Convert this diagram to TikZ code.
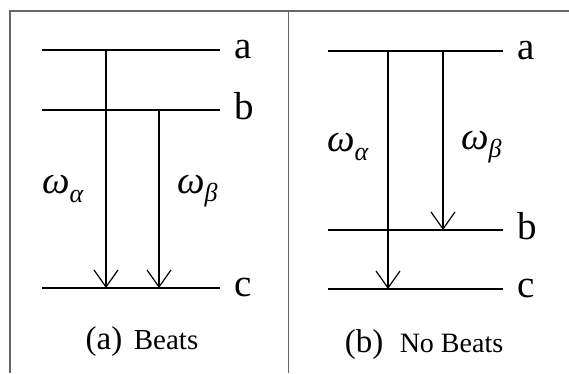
\documentclass[tikz,border=0pt]{standalone}
\usepackage{fontspec}
\setmainfont{Liberation Serif}
\usetikzlibrary{arrows.meta}
\tikzset{
  frame/.style={draw=black!60, line width=1.3pt},
  level/.style={draw=black, line width=1.8pt},
  trans/.style={draw=black, line width=1.2pt, -{Straight Barb[length=17pt, width=24pt, line width=1.2pt]}},
  lbl/.style={anchor=base west, inner sep=0pt, font=\fontsize{39}{39}\selectfont},
  om/.style={inner sep=0pt},
  captext/.style={anchor=base, inner sep=0pt}
}
\newcommand{\omlab}[1]{\fontsize{39}{39}\selectfont\itshape ω\raisebox{-0.22em}{\fontsize{26}{26}\selectfont #1}}
\begin{document}
\begin{tikzpicture}[x=1pt, y=-1pt]
\useasboundingbox (0,0) rectangle (569,373);
% frame
\coordinate (tl) at (10,11);
\coordinate (tr) at (569,11);
\coordinate (bl) at (10,373);
\coordinate (mt) at (288.5,11);
\coordinate (mb) at (288.5,373);
\draw[frame] (bl) -- (tl) -- (tr);
\draw[frame] (mt) -- (mb);
% panel (a)
\coordinate (aL) at (42,50);  \coordinate (aR) at (220,50);
\coordinate (bL) at (42,110); \coordinate (bR) at (220,110);
\coordinate (cL) at (42,288); \coordinate (cR) at (220,288);
\draw[level] (aL) -- (aR);
\draw[level] (bL) -- (bR);
\draw[level] (cL) -- (cR);
\node[lbl] (la) at (234,58) {a};
\node[lbl] (lb) at (234,119) {b};
\node[lbl] (lc) at (234,296) {c};
\coordinate (t1s) at (106,50); \coordinate (t1e) at (106,288);
\coordinate (t2s) at (159,110);  \coordinate (t2e) at (159,288);
\draw[trans] (t1s) -- (t1e);
\draw[trans] (t2s) -- (t2e);
\node[om, anchor=west] (wa1) at (42,189) {\omlab{α}};
\node[om, anchor=west] (wb1) at (177,191) {\omlab{β}};
\node[captext] (capa) at (142,349) {\fontsize{33}{33}\selectfont (a)\hspace{0.35em}\fontsize{29}{29}\selectfont Beats};
% panel (b)
\coordinate (AL) at (328,51);  \coordinate (AR) at (503,51);
\coordinate (BL) at (328,230); \coordinate (BR) at (503,230);
\coordinate (CL) at (328,289); \coordinate (CR) at (503,289);
\draw[level] (AL) -- (AR);
\draw[level] (BL) -- (BR);
\draw[level] (CL) -- (CR);
\node[lbl] (lA) at (517,59) {a};
\node[lbl] (lB) at (517,239) {b};
\node[lbl] (lC) at (517,297) {c};
\coordinate (T1s) at (388,51); \coordinate (T1e) at (388,289);
\coordinate (T2s) at (443,51); \coordinate (T2e) at (443,230);
\draw[trans] (T1s) -- (T1e);
\draw[trans] (T2s) -- (T2e);
\node[om, anchor=west] (wa2) at (327,147) {\omlab{α}};
\node[om, anchor=west] (wb2) at (461,147) {\omlab{β}};
\node[captext] (capb) at (424,352) {\fontsize{33}{33}\selectfont (b)\hspace{0.5em}\fontsize{28}{28}\selectfont No Beats};
\end{tikzpicture}
\end{document}
